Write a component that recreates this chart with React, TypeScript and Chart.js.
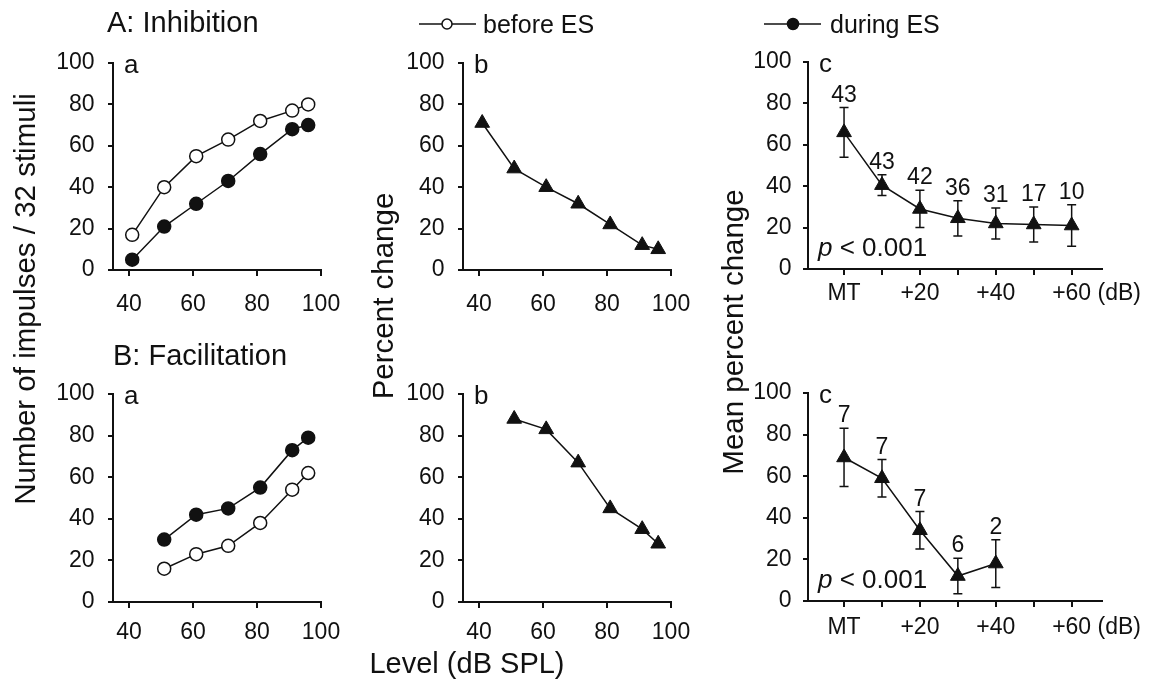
import React, { useEffect, useRef } from 'react';
import { Chart, registerables } from 'chart.js';

Chart.register(...registerables);

const FONT = '"Liberation Sans", Arial, Helvetica, sans-serif';
const INK = '#111';

// ---- tick definitions ----
const levelTicks = [40, 60, 80, 100];
const yTicks = [0, 20, 40, 60, 80, 100];
const relTicks = [0, 10, 20, 30, 40, 50, 60];
const relTickLabels = ['MT', '', '+20', '', '+40', '', '+60'];

// ---- A: Inhibition ----
const inhLevels = [41, 51, 61, 71, 81, 91, 96];
const inhBefore = [17, 40, 55, 63, 72, 77, 80];
const inhDuring = [5, 21, 32, 43, 56, 68, 70];
const inhPercent = [71, 49, 40, 32, 22, 12, 10];

const inhRel = [0, 10, 20, 30, 40, 50, 60];
const inhMean = [66, 40.5, 29, 24.5, 22, 21.5, 21];
const inhErr = [12, 5, 9, 8.5, 7.5, 8.5, 10];
const inhN = [43, 43, 42, 36, 31, 17, 10];

// ---- B: Facilitation ----
const facLevels = [51, 61, 71, 81, 91, 96];
const facBefore = [16, 23, 27, 38, 54, 62];
const facDuring = [30, 42, 45, 55, 73, 79];
const facPercent = [88, 83, 67, 45, 35, 28];

const facRel = [0, 10, 20, 30, 40];
const facMean = [69, 59, 34, 12, 18];
const facErr = [14, 9, 9, 8.5, 11.5];
const facN = [7, 7, 7, 6, 2];

const pts = (xs: number[], ys: number[]) => xs.map((x, i) => ({ x, y: ys[i] }));

const openSeries = (xs: number[], ys: number[]) => ({
  label: 'before ES',
  data: pts(xs, ys),
  borderColor: INK,
  borderWidth: 1.5,
  pointStyle: 'circle',
  pointRadius: 6.5,
  pointBorderWidth: 1.5,
  pointBackgroundColor: '#fff',
  pointBorderColor: INK,
  clip: false,
});
const filledSeries = (xs: number[], ys: number[]) => ({
  label: 'during ES',
  data: pts(xs, ys),
  borderColor: INK,
  borderWidth: 1.5,
  pointStyle: 'circle',
  pointRadius: 6.5,
  pointBorderWidth: 1.5,
  pointBackgroundColor: INK,
  pointBorderColor: INK,
  clip: false,
});
const triSeries = (xs: number[], ys: number[]) => ({
  label: 'percent',
  data: pts(xs, ys),
  borderColor: INK,
  borderWidth: 1.5,
  pointStyle: 'triangle',
  pointRadius: 8.5,
  pointBorderWidth: 1,
  pointBackgroundColor: INK,
  pointBorderColor: INK,
  clip: false,
});

type Panel = {
  key: string;
  left: number; top: number; right: number; bottom: number;
  xMin: number; xMax: number;
  xTicks: number[]; xLabels?: string[];
  xPad: number; yPad: number;
  letter: string;
  datasets: any[];
  errors?: { x: number[]; mean: number[]; err: number[]; n: number[] };
  pText?: boolean;
  dB?: boolean;
  rightPad: number;
};

const panels: Panel[] = [
  {
    key: 'Aa', left: 113, top: 63, right: 321, bottom: 270, xMin: 35, xMax: 100,
    xTicks: levelTicks, xPad: 15, yPad: 13.5, letter: 'a', rightPad: 45,
    datasets: [openSeries(inhLevels, inhBefore), filledSeries(inhLevels, inhDuring)],
  },
  {
    key: 'Ab', left: 463, top: 63, right: 671, bottom: 270, xMin: 35, xMax: 100,
    xTicks: levelTicks, xPad: 15, yPad: 13.5, letter: 'b', rightPad: 45,
    datasets: [triSeries(inhLevels, inhPercent)],
  },
  {
    key: 'Ac', left: 808, top: 62, right: 1102, bottom: 269, xMin: -9.5, xMax: 68,
    xTicks: relTicks, xLabels: relTickLabels, xPad: 5, yPad: 11.5, letter: 'c', rightPad: 47,
    datasets: [triSeries(inhRel, inhMean)],
    errors: { x: inhRel, mean: inhMean, err: inhErr, n: inhN }, pText: true, dB: true,
  },
  {
    key: 'Ba', left: 113, top: 394, right: 321, bottom: 602, xMin: 35, xMax: 100,
    xTicks: levelTicks, xPad: 11, yPad: 13.5, letter: 'a', rightPad: 45,
    datasets: [openSeries(facLevels, facBefore), filledSeries(facLevels, facDuring)],
  },
  {
    key: 'Bb', left: 463, top: 394, right: 671, bottom: 602, xMin: 35, xMax: 100,
    xTicks: levelTicks, xPad: 11, yPad: 13.5, letter: 'b', rightPad: 45,
    datasets: [triSeries(facLevels, facPercent)],
  },
  {
    key: 'Bc', left: 808, top: 393, right: 1102, bottom: 601, xMin: -9.5, xMax: 68,
    xTicks: relTicks, xLabels: relTickLabels, xPad: 7, yPad: 11.5, letter: 'c', rightPad: 47,
    datasets: [triSeries(facRel, facMean)],
    errors: { x: facRel, mean: facMean, err: facErr, n: facN }, pText: true, dB: true,
  },
];

const Y_AXIS_W = 75;
const X_AXIS_H = 45;
const TOP_PAD = 30;

function makeOverlay(p: Panel) {
  return {
    id: 'overlay' + p.key,
    beforeDatasetsDraw(chart: any) {
      if (!p.errors) return;
      const { ctx } = chart;
      const xs = chart.scales.x;
      const ys = chart.scales.y;
      ctx.save();
      ctx.strokeStyle = INK;
      ctx.lineWidth = 1.5;
      p.errors.x.forEach((xv, i) => {
        const m = p.errors!.mean[i];
        const e = p.errors!.err[i];
        const px = xs.getPixelForValue(xv);
        const yt = ys.getPixelForValue(m + e);
        const yb = ys.getPixelForValue(m - e);
        ctx.beginPath();
        ctx.moveTo(px, yt); ctx.lineTo(px, yb);
        ctx.moveTo(px - 4.5, yt); ctx.lineTo(px + 4.5, yt);
        ctx.moveTo(px - 4.5, yb); ctx.lineTo(px + 4.5, yb);
        ctx.stroke();
      });
      ctx.restore();
    },
    afterDraw(chart: any) {
      const { ctx, chartArea } = chart;
      const xs = chart.scales.x;
      const ys = chart.scales.y;
      ctx.save();
      ctx.fillStyle = INK;
      ctx.textBaseline = 'alphabetic';
      // panel letter
      ctx.font = `26px ${FONT}`;
      ctx.textAlign = 'left';
      ctx.fillText(p.letter, chartArea.left + 11, chartArea.top + 10);
      if (p.errors) {
        ctx.font = `23px ${FONT}`;
        ctx.textAlign = 'center';
        p.errors.x.forEach((xv, i) => {
          const px = xs.getPixelForValue(xv);
          const yt = ys.getPixelForValue(p.errors!.mean[i] + p.errors!.err[i]);
          ctx.fillText(String(p.errors!.n[i]), px, yt - 6);
        });
      }
      if (p.pText) {
        const x0 = chartArea.left + 10;
        const y0 = chartArea.bottom - 13;
        ctx.textAlign = 'left';
        ctx.font = `italic 26px ${FONT}`;
        ctx.fillText('p', x0, y0);
        const w = ctx.measureText('p').width;
        ctx.font = `26px ${FONT}`;
        ctx.fillText(' < 0.001', x0 + w, y0);
      }
      if (p.dB) {
        ctx.font = `23px ${FONT}`;
        ctx.textAlign = 'left';
        ctx.textBaseline = 'middle';
        const px = xs.getPixelForValue(60);
        const w = ctx.measureText('+60').width;
        const sp = ctx.measureText(' ').width;
        const y = xs.top + 6 + p.xPad + (23 * 1.2) / 2;
        ctx.fillText('(dB)', px + w / 2 + sp, y);
      }
      ctx.restore();
    },
  };
}

function PanelChart({ p }: { p: Panel }) {
  const ref = useRef<HTMLCanvasElement>(null);
  const cl = p.left - Y_AXIS_W;
  const ct = p.top - TOP_PAD;
  const cw = p.right - p.left + Y_AXIS_W + p.rightPad;
  const ch = p.bottom - p.top + TOP_PAD + X_AXIS_H;

  useEffect(() => {
    if (!ref.current) return;
    const tickFont = { family: FONT, size: 23 };
    const chart = new Chart(ref.current, {
      type: 'line',
      data: { datasets: p.datasets },
      options: {
        responsive: false,
        animation: false,
        devicePixelRatio: 1,
        layout: { padding: { left: 0, top: TOP_PAD, right: p.rightPad, bottom: 0 } },
        plugins: { legend: { display: false }, tooltip: { enabled: false } },
        elements: { line: { tension: 0 } },
        scales: {
          x: {
            type: 'linear',
            min: p.xMin,
            max: p.xMax,
            afterBuildTicks: (s: any) => { s.ticks = p.xTicks.map((v) => ({ value: v })); },
            afterFit: (s: any) => { s.height = X_AXIS_H; },
            ticks: {
              autoSkip: false,
              maxRotation: 0,
              minRotation: 0,
              padding: p.xPad,
              color: INK,
              font: tickFont,
              callback: (v: any, i: number) => (p.xLabels ? p.xLabels[i] : String(v)),
            },
            grid: { drawOnChartArea: false, drawTicks: true, tickLength: 6, color: INK, lineWidth: 2 },
            border: { display: true, color: INK, width: 2 },
          },
          y: {
            type: 'linear',
            min: 0,
            max: 100,
            afterBuildTicks: (s: any) => { s.ticks = yTicks.map((v) => ({ value: v })); },
            afterFit: (s: any) => { s.width = Y_AXIS_W; },
            ticks: { padding: p.yPad, color: INK, font: tickFont },
            grid: { drawOnChartArea: false, drawTicks: true, tickLength: 5, color: INK, lineWidth: 2 },
            border: { display: true, color: INK, width: 2 },
          },
        },
      } as any,
      plugins: [makeOverlay(p)],
    });
    return () => chart.destroy();
  }, []);

  return (
    <canvas
      ref={ref}
      width={cw}
      height={ch}
      style={{ position: 'absolute', left: cl, top: ct, width: cw, height: ch }}
    />
  );
}

export default function App() {
  const t = { fontFamily: FONT, fill: INK } as any;
  return (
    <div style={{ position: 'absolute', left: 0, top: 0, width: 1149, height: 692, background: '#fff', overflow: 'hidden' }}>
      {panels.map((p) => (
        <PanelChart key={p.key} p={p} />
      ))}
      <svg width={1149} height={692} style={{ position: 'absolute', left: 0, top: 0, pointerEvents: 'none' }}>
        <text x={107} y={31.7} fontSize={29} {...t}>A: Inhibition</text>
        <text x={113} y={365} fontSize={29} {...t}>B: Facilitation</text>
        {/* legend */}
        <line x1={419} y1={24} x2={476} y2={24} stroke={INK} strokeWidth={1.5} />
        <circle cx={447} cy={24} r={5} fill="#fff" stroke={INK} strokeWidth={1.5} />
        <text x={483} y={33.3} fontSize={25} {...t}>before ES</text>
        <line x1={764} y1={24} x2={821} y2={24} stroke={INK} strokeWidth={1.5} />
        <circle cx={793} cy={24} r={5.5} fill={INK} stroke={INK} strokeWidth={1.5} />
        <text x={830} y={33.3} fontSize={25} {...t}>during ES</text>
        {/* axis titles */}
        <text transform="translate(35,299) rotate(-90)" textAnchor="middle" fontSize={29.5} {...t}>Number of impulses / 32 stimuli</text>
        <text transform="translate(393,296) rotate(-90)" textAnchor="middle" fontSize={29.5} {...t}>Percent change</text>
        <text transform="translate(743,332) rotate(-90)" textAnchor="middle" fontSize={29.5} {...t}>Mean percent change</text>
        <text x={467} y={673.3} textAnchor="middle" fontSize={29} {...t}>Level (dB SPL)</text>
      </svg>
    </div>
  );
}
